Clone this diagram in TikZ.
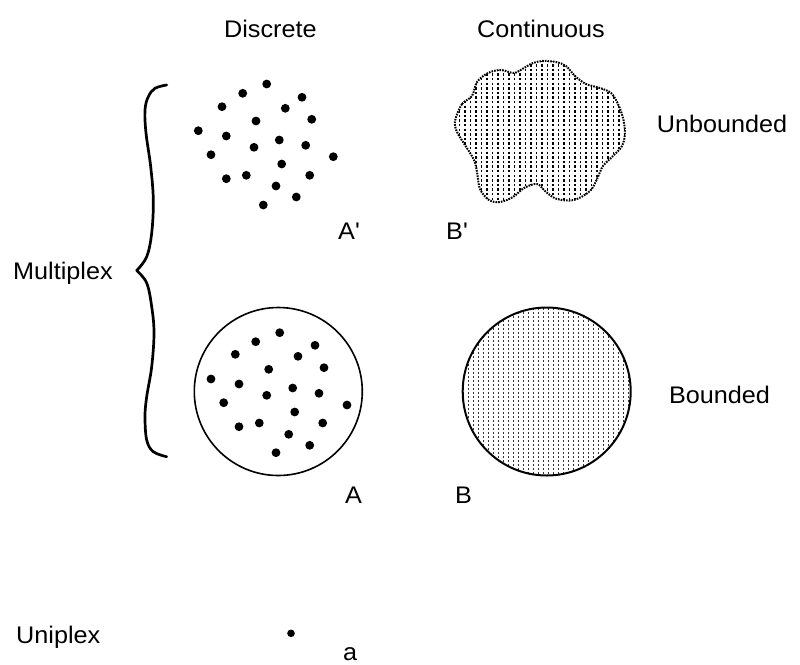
\documentclass[tikz,border=0pt]{standalone}
\usepackage{fontspec}
\setmainfont{Liberation Sans}[FakeStretch=1.05,Ligatures=TeXOff]
\begin{document}
\begin{tikzpicture}[x=1pt,y=-1pt,
  lbl/.style={inner sep=0pt,font=\fontsize{24}{28}\selectfont},
  dotr/.style={fill=black},
  pat/.style={line width=1.1pt,dash pattern=on 2.4pt off 2.2pt},
  ring/.style={line width=1.6pt},
  brace/.style={line width=2.7pt,line cap=round}]
\useasboundingbox[fill=white] (0,0) rectangle (800,664);

% labels
\node[lbl,anchor=base west] (disc) at (224,37) {Discrete};
\node[lbl,anchor=base west] (cont) at (477,37) {Continuous};
\node[lbl,anchor=base] (unb) at (722,132) {Unbounded};
\node[lbl,anchor=base] (bnd) at (719.5,403) {Bounded};
\node[lbl,anchor=base west] (mult) at (13,279) {Multiplex};
\node[lbl,anchor=base west] (uni) at (16,643) {Uniplex};
\node[lbl,anchor=base west] (Ap) at (338,239) {A'};
\node[lbl,anchor=base west] (Bp) at (446,239) {B'};
\node[lbl,anchor=base west] (A) at (345,503) {A};
\node[lbl,anchor=base west] (B) at (455,503) {B};
\node[lbl,anchor=base west] (a) at (343,660) {a};

% brace
\draw[brace] plot[smooth,tension=0.6] coordinates {(166.7,85) (155,88.3) (148.3,96.7) (145,110) (146,133) (150.7,166.7) (153.3,200) (151.7,233) (146.7,256.7) (136.7,270.5)};
\draw[brace] plot[smooth,tension=0.6] coordinates {(136.7,270.5) (146.7,283) (151.7,306.7) (154,333) (151.7,366.7) (146.7,396.7) (145,416.7) (146.7,440) (153.3,451.7) (166.7,456.7)};

% A' dots
\foreach \p in {(266.7,84),(242.7,93.3),(302,97.3),(222,106.7),(285.3,108.3),(311.7,119.3),(256,121),(198.3,130.7),(226.3,136),(279.3,140),(305.7,145.3),(254,147.3),(211,154.7),(333.3,156.7),(281.7,164),(226.3,178.7),(246.3,175.3),(309.7,175.3),(276,186),(296.3,197),(263.3,205)}
  \fill[dotr] \p circle (4.4pt);

% A circle with dots
\draw[ring] (278.3,391.5) circle (84pt);
\foreach \p in {(279.7,332.7),(255.7,341.7),(315,345.3),(235.3,354.3),(298,356.3),(324,367.7),(268.7,369.3),(211,379),(239,384),(292.7,388),(319,393.3),(266.7,395.3),(223.7,402.7),(347,405),(294.7,412),(239,426.7),(259.3,423),(322.7,423),(288.7,434.3),(309.7,445.3),(276,452.7)}
  \fill[dotr] \p circle (4.4pt);

% B' blob
\def\blobpath{plot[smooth cycle,tension=0.55] coordinates {(455,121) (462,104) (472,96) (477,82) (488,73) (501,70) (514,73) (524,68) (533,63) (543,61) (556,62) (566,66) (575,76) (586,84) (600,88) (611,93) (618,104) (623,118) (625,133) (622,146) (613,156) (603,166) (597,179) (590,191) (574,200) (557,199) (546,192) (537,184) (524,188) (513,197) (500,202) (489,200) (480,189) (477,172) (474,160) (465,145) (457,132)}}
\begin{scope}
  \clip \blobpath;
  \foreach \x in {454,459.5,...,630} \draw[pat] (\x,55) -- (\x,210);
\end{scope}
\draw[line width=2pt,dash pattern=on 1.6pt off 1.1pt] \blobpath;

% B circle
\begin{scope}
  \clip (546.7,391.5) circle (84pt);
  \foreach \x in {463,468,...,632} \draw[pat,black!80,line width=1pt,dash pattern=on 2pt off 2pt] (\x,300) -- (\x,480);
\end{scope}
\draw[line width=2pt] (546.7,391.5) circle (84pt);

% uniplex dot
\fill[dotr] (291,633.3) circle (3.8pt);
\end{tikzpicture}
\end{document}
